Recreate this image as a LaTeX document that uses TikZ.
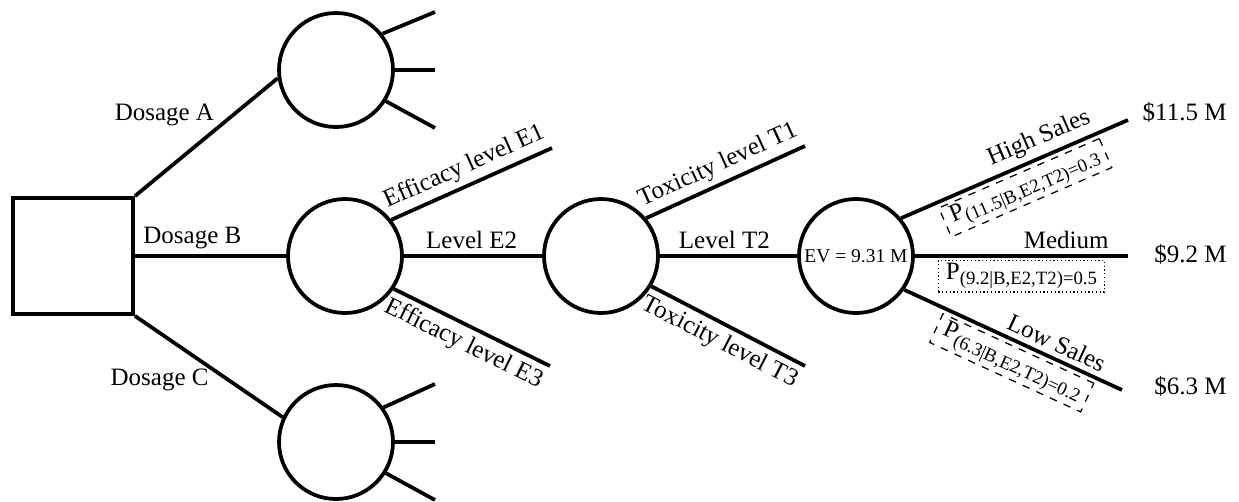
\documentclass[tikz,border=0pt]{standalone}
\usepackage{fontspec}
\setmainfont{Liberation Serif}
\usepackage{tikz}

\newcommand{\pcond}[2]{P\raisebox{-0.45ex}{\fontsize{7.5}{9}\selectfont(#1|B,E2,T2)=#2}}

\begin{document}
\begin{tikzpicture}[x=0.4pt, y=-0.4pt,
        branch/.style={line width=1.5pt},
        chance/.style={circle, draw, line width=1.5pt, minimum size=45.6pt, inner sep=0pt},
        decision/.style={rectangle, draw, line width=1.5pt, minimum width=48pt, minimum height=46.4pt},
        lbl/.style={font=\fontsize{10}{12}\selectfont, inner sep=2pt},
        pbox/.style={draw, line width=0.5pt, inner xsep=3pt, inner ysep=1.2pt, font=\fontsize{10}{12}\selectfont}]
    \useasboundingbox (0,0) rectangle (1239,501);

    \node[decision] (d)  at (73,256)  {};
    \node[chance]   (ca) at (336,70)  {};
    \node[chance]   (cb) at (345,256) {};
    \node[chance]   (cc) at (336,442) {};
    \node[chance]   (tx) at (601,256) {};
    \node[chance]   (ev) at (856,256) {\fontsize{7.8}{9}\selectfont EV = 9.31 M};

    \coordinate (a1) at (435,12);
    \coordinate (a2) at (435,70);
    \coordinate (a3) at (435,128);
    \coordinate (c1) at (435,384);
    \coordinate (c2) at (435,442);
    \coordinate (c3) at (435,500);
    \coordinate (e1) at (552,148);
    \coordinate (e3) at (550,366);
    \coordinate (t1) at (805,146);
    \coordinate (t3) at (805,366);
    \coordinate (hi) at (1128,120);
    \coordinate (me) at (1128,256);
    \coordinate (lo) at (1122,390);

    \draw[branch] (d.north east) -- node[lbl, left=5pt, pos=0.69] (la) {Dosage A} (ca.188);
    \draw[branch] (d) -- node[lbl, above, pos=0.38] (lb) {Dosage B} (cb);
    \draw[branch] (d.south east) -- node[lbl, left=5pt, pos=0.63] (lc) {Dosage C} (cc.155);

    \draw[branch] (ca.38) -- (a1);
    \draw[branch] (ca) -- (a2);
    \draw[branch] (ca.-32) -- (a3);
    \draw[branch] (cc.36) -- (c1);
    \draw[branch] (cc) -- (c2);
    \draw[branch] (cc.-32) -- (c3);

    \draw[branch] (cb.38) -- node[lbl, sloped, above] (le1) {Efficacy level E1} (e1);
    \draw[branch] (cb) -- node[lbl, above, pos=0.49] (le2) {Level E2} (tx);
    \draw[branch] (cb.-34) -- node[lbl, sloped, below] (le3) {Efficacy level E3} (e3);

    \draw[branch] (tx.40) -- node[lbl, sloped, above] (lt1) {Toxicity level T1} (t1);
    \draw[branch] (tx) -- node[lbl, above, pos=0.47] (lt2) {Level T2} (ev);
    \draw[branch] (tx.-31) -- node[lbl, sloped, below] (lt3) {Toxicity level T3} (t3);

    \draw[branch] (ev.40) -- node[lbl, sloped, above, pos=0.64] (lhi) {High Sales}
        node[pbox, dashed, sloped, below=2pt, pos=0.51] (phi) {\pcond{11.5}{0.3}} (hi);
    \draw[branch] (ev) -- node[lbl, above, pos=0.71] (lme) {Medium}
        node[pbox, densely dotted, below=1.5pt, pos=0.5] (pme) {\pcond{9.2}{0.5}} (me);
    \draw[branch] (ev.-35) -- node[lbl, sloped, above, pos=0.67] (llo) {Low Sales}
        node[pbox, dashed, sloped, below=2pt, pos=0.535] (plo) {\pcond{6.3}{0.2}} (lo);

    \node[lbl, anchor=east] (v1) at (1232,112) {\$11.5 M};
    \node[lbl, anchor=east] (v2) at (1232,254) {\$9.2 M};
    \node[lbl, anchor=east] (v3) at (1232,386) {\$6.3 M};
\end{tikzpicture}
\end{document}
